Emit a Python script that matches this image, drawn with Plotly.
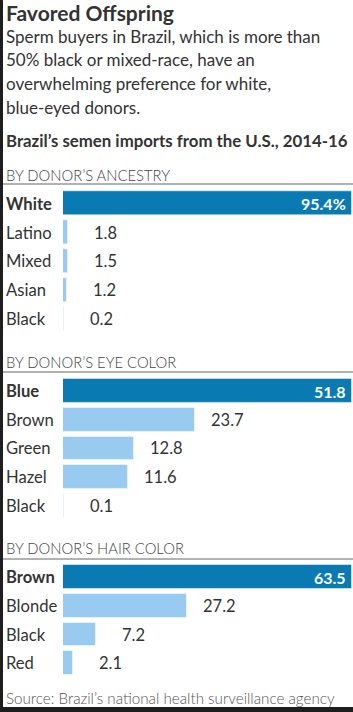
import plotly.graph_objects as go

W, H = 353, 712

title = "Favored Offspring"
subtitle_lines = [
    "Sperm buyers in Brazil, which is more than",
    "50% black or mixed-race, have an",
    "overwhelming preference for white,",
    "blue-eyed donors.",
]
chart_title = "Brazil’s semen imports from the U.S., 2014-16"
source = "Source: Brazil’s national health surveillance agency"

ancestry_labels = ["White", "Latino", "Mixed", "Asian", "Black"]
ancestry_values = [95.4, 1.8, 1.5, 1.2, 0.2]
eye_labels = ["Blue", "Brown", "Green", "Hazel", "Black"]
eye_values = [51.8, 23.7, 12.8, 11.6, 0.1]
hair_labels = ["Brown", "Blonde", "Black", "Red"]
hair_values = [63.5, 27.2, 7.2, 2.1]

panels = [
    ("BY DONOR’S ANCESTRY", ancestry_labels, ancestry_values, "%"),
    ("BY DONOR’S EYE COLOR", eye_labels, eye_values, ""),
    ("BY DONOR’S HAIR COLOR", hair_labels, hair_values, ""),
]
# pixel layout of each panel: header y, rule y, first row centre, row pitch
panel_px = [(175, 184, 203.7, 28.8), (362, 372, 391.2, 28.6), (548, 559, 577.3, 28.6)]

DARK = "#0a7bb2"
LIGHT = "#98cbef"
TXT = "#333333"
FONT = "Lato"


def yp(px):
    return 1 - px / H


def xp(px):
    return px / W


fig = go.Figure()
annotations = []
shapes = []
layout_axes = {}

for i, ((head, labels, values, suffix), (hy, ry, r0, pitch)) in enumerate(zip(panels, panel_px)):
    n = len(labels)
    top = r0 - pitch / 2
    bot = r0 + pitch * (n - 1) + pitch / 2
    xa = "x" if i == 0 else f"x{i+1}"
    ya = "y" if i == 0 else f"y{i+1}"
    colors = [DARK] + [LIGHT] * (n - 1)
    fig.add_trace(go.Bar(
        x=values, y=list(range(n)), orientation="h",
        marker=dict(color=colors, line=dict(color="rgba(255,255,255,0.5)", width=1)),
        width=0.83, xaxis=xa, yaxis=ya, hoverinfo="skip", showlegend=False,
    ))
    layout_axes["xaxis" if i == 0 else f"xaxis{i+1}"] = dict(
        domain=[xp(63), xp(352)], range=[0, max(values)], visible=False,
        anchor=ya, fixedrange=True)
    layout_axes["yaxis" if i == 0 else f"yaxis{i+1}"] = dict(
        domain=[yp(bot), yp(top)], range=[n - 0.5, -0.5], visible=False,
        anchor=xa, fixedrange=True)
    # header and rule
    annotations.append(dict(text=head, xref="paper", yref="paper", x=xp(4), y=yp(hy),
                            xanchor="left", yanchor="middle", showarrow=False,
                            font=dict(family=FONT, size=14.8, color="#444444", weight=300)))
    shapes.append(dict(type="line", xref="paper", yref="paper", x0=xp(3), x1=1,
                       y0=yp(ry), y1=yp(ry), line=dict(color="#666666", width=1.2)))
    for j, (lab, v) in enumerate(zip(labels, values)):
        annotations.append(dict(text=lab, xref="paper", yref=ya, x=xp(4), y=j,
                                xanchor="left", yanchor="middle", showarrow=False,
                                font=dict(family=FONT, size=16.6, color=TXT,
                                          weight=700 if j == 0 else 400)))
        if j == 0:
            annotations.append(dict(text=f"{v}{suffix}", xref=xa, yref=ya, x=v, y=j,
                                    xanchor="right", yanchor="middle", xshift=-4,
                                    showarrow=False,
                                    font=dict(family=FONT, size=16, color="white", weight=700)))
        else:
            annotations.append(dict(text=f"{v}", xref=xa, yref=ya, x=v, y=j,
                                    xanchor="right", yanchor="middle", xshift=51,
                                    showarrow=False,
                                    font=dict(family=FONT, size=16.5, color=TXT)))

annotations.append(dict(text=f"<b>{title}</b>", xref="paper", yref="paper", x=xp(4), y=yp(12.5),
                        xanchor="left", yanchor="middle", showarrow=False,
                        font=dict(family=FONT, size=21, color=TXT)))
for k, line in enumerate(subtitle_lines):
    annotations.append(dict(text=line, xref="paper", yref="paper", x=xp(4), y=yp(36.5 + 23.5 * k),
                            xanchor="left", yanchor="middle", showarrow=False,
                            font=dict(family=FONT, size=17, color=TXT)))
annotations.append(dict(text=f"<b>{chart_title}</b>", xref="paper", yref="paper", x=xp(4), y=yp(140),
                        xanchor="left", yanchor="middle", showarrow=False,
                        font=dict(family=FONT, size=16.8, color=TXT)))
annotations.append(dict(text=source, xref="paper", yref="paper", x=xp(4), y=yp(698),
                        xanchor="left", yanchor="middle", showarrow=False,
                        font=dict(family=FONT, size=15.2, color="#555555", weight=300)))

# dark screenshot frame (left edge and bottom)
shapes.append(dict(type="rect", xref="paper", yref="paper", x0=0, x1=xp(3), y0=0, y1=1,
                   fillcolor="#1e1e1e", line=dict(width=0), layer="above"))
shapes.append(dict(type="rect", xref="paper", yref="paper", x0=0, x1=1, y0=0, y1=yp(707),
                   fillcolor="#1e1e1e", line=dict(width=0), layer="above"))

fig.update_layout(
    width=W, height=H, margin=dict(l=0, r=0, t=0, b=0),
    paper_bgcolor="white", plot_bgcolor="rgba(0,0,0,0)",
    annotations=annotations, shapes=shapes, bargap=0,
    **layout_axes,
)
fig.write_html("out.html", config={"displayModeBar": False})
